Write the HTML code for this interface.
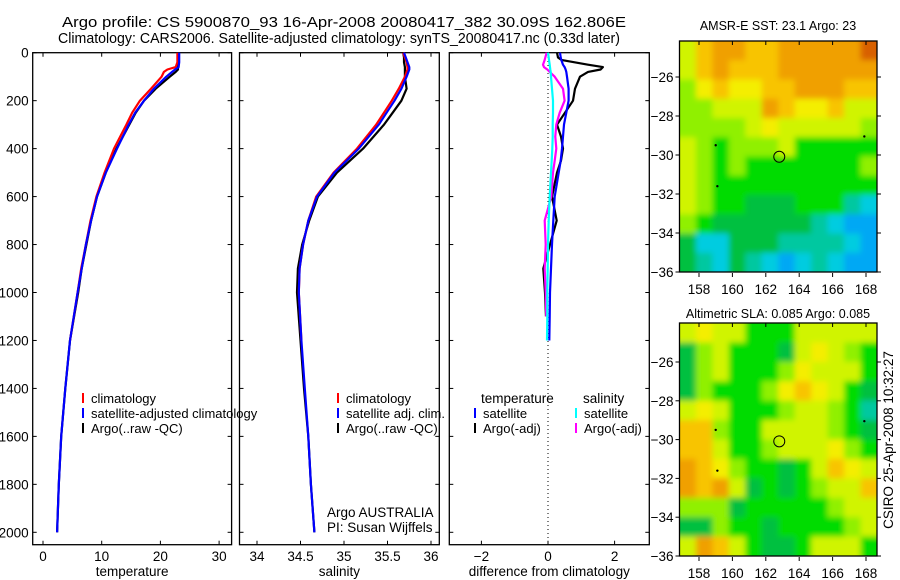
<!DOCTYPE html>
<html><head><meta charset="utf-8">
<style>
html,body{margin:0;padding:0;background:#fff;}
svg{display:block;font-family:"Liberation Sans",sans-serif;}
text{fill:#000;}
</style></head>
<body>
<svg id="chart" width="900" height="580" viewBox="0 0 900 580" xmlns="http://www.w3.org/2000/svg">
<defs>
<filter id="blur" x="-5%" y="-5%" width="110%" height="110%"><feGaussianBlur stdDeviation="3"/></filter>
<clipPath id="clipTop"><rect x="679.5" y="41" width="197.5" height="231"/></clipPath>
<clipPath id="clipBot"><rect x="679.5" y="323" width="197.5" height="233"/></clipPath>
</defs>
</svg>
<script>
// ---- data ----
const pres = [0,20,40,60,70,80,100,150,200,250,300,400,500,600,700,800,900,1000,1200,1400,1600,1800,2000];
const tempArgo = [23.0,23.0,23.0,23.0,23.0,22.6,21.6,19.2,17.2,15.8,14.7,12.5,10.7,9.2,8.2,7.4,6.6,6.0,4.6,3.8,3.1,2.7,2.4];
const tempClim = [22.9,22.9,22.9,22.6,21.2,20.6,20.2,18.4,16.5,15.2,14.2,12.1,10.5,9.1,8.1,7.3,6.5,5.9,4.6];
const tempSat  = [23.2,23.2,23.2,23.1,22.5,22.0,21.0,18.9,17.2,15.7,14.6,12.6,10.7,9.2,8.2,7.3,6.6,5.9,4.6,3.8,3.1,2.7,2.4];
const salArgo = [35.68,35.69,35.69,35.70,35.70,35.70,35.70,35.72,35.66,35.56,35.46,35.22,34.92,34.70,34.60,34.52,34.47,34.46,34.50,34.54,34.59,34.62,34.66];
const salClim  = [35.68,35.70,35.72,35.73,35.73,35.72,35.70,35.63,35.55,35.46,35.37,35.15,34.88,34.68,34.59,34.53,34.49,34.48,34.51];
const salSat   = [35.69,35.71,35.73,35.75,35.75,35.74,35.72,35.66,35.58,35.49,35.40,35.17,34.89,34.69,34.59,34.53,34.49,34.48,34.51,34.55,34.59,34.62,34.66];
const dPres = [0,20,30,50,60,70,80,100,150,200,250,300,350,400,450,500,600,700,800,900,1000,1100,1200];
const dTempSat  = [0.36,0.38,0.40,0.45,0.50,0.53,0.55,0.57,0.62,0.62,0.55,0.48,0.45,0.42,0.38,0.32,0.2,0.16,0.12,0.09,0.06,0.05,0.04];
const dTempArgo = [0.27,0.30,0.40,1.20,1.65,1.58,1.20,0.96,0.81,0.75,0.51,0.27,0.39,0.45,0.39,0.27,0.12,0.26,0.06,-0.14,-0.09,-0.06];
const dSalSat   = [0.0,0.02,0.03,0.05,0.06,0.07,0.08,0.09,0.12,0.15,0.15,0.14,0.14,0.13,0.11,0.09,0.05,0.02,0.0,-0.01,-0.02,-0.02,-0.03];
const dSalArgo  = [-0.04,-0.08,-0.1,-0.15,-0.12,-0.02,0.05,0.2,0.45,0.5,0.35,0.25,0.22,0.25,0.2,0.15,0.1,-0.1,-0.07,-0.1,-0.07,-0.05];
const presTicks = [0,200,400,600,800,1000,1200,1400,1600,1800,2000];
const tempTicks = [0,10,20,30];
const salTicks = [34,34.5,35,35.5,36];
const diffTicks = [-2,0,2];
const latTicksTop = [-26,-28,-30,-32,-34,-36];
const lonTicks = [158,160,162,164,166,168];
const argoLon = 162.806, argoLat = -30.09;
// map color grids (12x12)
const sstGrid = [
"yoOOooOOOOOD","yoOoooOOOOOO","lYoYYooOOOoo","llyyyOoYYoyy","llllyYyyyyyl",
"ylGlllyGGGGG","ylGlGGGGGGGl","ylGGGGGGGGGG","ylGGgggGGGcC","lGggggggcCBB","gCCgggccccCB","gcCgcCBCcCBB"];
const slaGrid = [
"yYyyGGGyyyyy","glyGGGgyYylG","glyGGGlYyyyG","glGGGlYoYyGg","yYyGGGlyylGc","oolGGyyyylGg",
"ooyGGlyyyYlG","OoYlGGgGyoYy","OoOygGgGlyyo","lllgGGGGGlyy","gglGGgGGGGly","yOoyGggGyyyG"];
const palette = {D:"#d86000",O:"#f0a000",o:"#f8c400",Y:"#f4ee00",y:"#d0f400",l:"#90f000",G:"#00dc00",g:"#00c040",c:"#00c8a0",C:"#00cce0",B:"#00a8f4"};

const NS="http://www.w3.org/2000/svg";
const svg=document.getElementById('chart');
function mk(tag,attrs,parent){const e=document.createElementNS(NS,tag);for(const k in attrs)e.setAttribute(k,attrs[k]);(parent||svg).appendChild(e);return e;}
function txt(s,x,y,opts,parent){const t=mk('text',Object.assign({x:x,y:y,'font-size':13.5},opts||{}),parent);t.textContent=s;return t;}

const yP = p => 52.7 + p*0.2398;
const xT = t => 43 + t*5.87;
const xS = s => 257 + (s-34)*87;
const xD = d => 548 + d*33.3;
const mapX = lon => 699 + (lon-158)*16.7;
const yTop = lat => 77 + (-26-lat)*19.5;
const yBot = lat => 362 + (-26-lat)*19.4;

let t1=txt("Argo profile: CS 5900870_93 16-Apr-2008 20080417_382 30.09S 162.806E",62,27,{'font-size':14.5,'textLength':564,'lengthAdjust':'spacingAndGlyphs'});

let t2=txt("Climatology: CARS2006. Satellite-adjusted climatology: synTS_20080417.nc (0.33d later)",58,43,{'font-size':14.5,'textLength':562,'lengthAdjust':'spacingAndGlyphs'});


function panel(name,x0,x1,ticks,xf,label,fmt){
  const g=mk('g',{});
  
  
  mk('rect',{x:x0,y:52.7,width:x1-x0,height:492,fill:'none',stroke:'#000','stroke-width':1.3},g);
  presTicks.forEach(p=>{const y=yP(p);
    mk('line',{x1:x0,x2:x0+4,y1:y,y2:y,stroke:'#000'},g);
    mk('line',{x1:x1-4,x2:x1,y1:y,y2:y,stroke:'#000'},g);
    if(name==='temperature-panel'){const l=txt(String(p),x0-4,y+5,{'text-anchor':'end'},g);}
  });
  ticks.forEach(v=>{const x=xf(v);
    mk('line',{x1:x,x2:x,y1:52.7,y2:56.7,stroke:'#000'},g);
    mk('line',{x1:x,x2:x,y1:540.7,y2:544.7,stroke:'#000'},g);
    const l=txt(fmt(v),x,561,{'text-anchor':'middle'},g);
    
  });
  const al=txt(label,(x0+x1)/2,576,{'text-anchor':'middle'},g);
  
  return g;
}
function line(vals,ps,xf,color,name,w,parent){
  let d='';vals.forEach((v,i)=>{d+=(i?'L':'M')+xf(v).toFixed(1)+' '+yP(ps[i]).toFixed(1);});
  const p=mk('path',{d:d,fill:'none',stroke:color,'stroke-width':w||2.2,'stroke-linejoin':'round'},parent);
  
  return p;
}
function legend(items,x,y,parent){
  items.forEach((it,i)=>{const yy=y+i*15;
    mk('line',{x1:x,x2:x,y1:yy-10,y2:yy,stroke:it[1],'stroke-width':2},parent);
    const l=txt(it[0],x+8,yy,{'font-size':13},parent);
    
  });
}
function neg(v){return String(v).replace('-','\u2212');}

const g1=panel('temperature-panel',32.7,231.6,tempTicks,xT,'temperature',v=>String(v));
line(tempArgo,pres,xT,'#000','argo-temperature-line',2.2,g1);
line(tempClim,pres,xT,'#f00','climatology-temperature-line',2.2,g1);
line(tempSat,pres,xT,'#00f','satellite-temperature-line',2.2,g1);
legend([['climatology','#f00'],['satellite-adjusted climatology','#00f'],['Argo(..raw -QC)','#000']],83,403,g1);

const g2=panel('salinity-panel',239.5,439.3,salTicks,xS,'salinity',v=>String(v));
line(salArgo,pres,xS,'#000','argo-salinity-line',2.2,g2);
line(salClim,pres,xS,'#f00','climatology-salinity-line',2.2,g2);
line(salSat,pres,xS,'#00f','satellite-salinity-line',2.2,g2);
legend([['climatology','#f00'],['satellite adj. clim.','#00f'],['Argo(..raw -QC)','#000']],338,403,g2);
let a1=txt('Argo AUSTRALIA',327,517,{},g2);
let a2=txt('PI: Susan Wijffels',327,532,{},g2);

const g3=panel('diff-panel',449.3,649.3,diffTicks,xD,'difference from climatology',v=>neg(v));
mk('line',{x1:xD(0),x2:xD(0),y1:53,y2:544,stroke:'#000','stroke-dasharray':'1 3'},g3);
line(dTempArgo,dPres,xD,'#000','argo-temperature-diff-line',2.2,g3);
line(dSalArgo,dPres,xD,'#f0f','argo-salinity-diff-line',2.2,g3);
line(dTempSat,dPres,xD,'#00f','satellite-temperature-diff-line',2.2,g3);
line(dSalSat,dPres,xD,'#0ff','satellite-salinity-diff-line',2.2,g3);
let lt=txt('temperature',481,403,{},g3);
let ls=txt('salinity',583,403,{},g3);
legend([['satellite','#00f'],['Argo(-adj)','#000']],475,418,g3);
legend([['satellite','#0ff'],['Argo(-adj)','#f0f']],576,418,g3);

function map(name,title,grid,top,bottom,yf,titleY,clip){
  const g=mk('g',{});
  
  const x0=679.5,x1=877,w=(x1-x0)/12,h=(bottom-top)/12;
  const cg=mk('g',{'clip-path':'url(#'+clip+')'},g);
  const bg=mk('g',{filter:'url(#blur)'},cg);
  grid.forEach((row,r)=>{for(let c=-1;c<13;c++){
    const cc=Math.min(11,Math.max(0,c));
    mk('rect',{x:(x0+c*w).toFixed(2),y:(top+r*h-(r===0?h:0)).toFixed(2),width:(w+0.6).toFixed(2),height:(h+0.6+(r===0||r===11?h:0)).toFixed(2),fill:palette[row[cc]]},bg);
  }});
  mk('rect',{x:x0,y:top,width:x1-x0,height:bottom-top,fill:'none',stroke:'#000','stroke-width':1.3},g);
  lonTicks.forEach(v=>{const x=mapX(v);
    mk('line',{x1:x,x2:x,y1:top,y2:top+4,stroke:'#000'},g);
    mk('line',{x1:x,x2:x,y1:bottom+1,y2:bottom+5,stroke:'#000'},g);
    const l=txt(String(v),x,bottom+22,{'text-anchor':'middle'},g);});
  latTicksTop.forEach(v=>{const y=yf(v);
    mk('line',{x1:x0-4,x2:x0,y1:y,y2:y,stroke:'#000'},g);
    mk('line',{x1:x1,x2:x1+4,y1:y,y2:y,stroke:'#000'},g);
    const l=txt(neg(v),x0-6,y+5,{'text-anchor':'end'},g);});
  const c=mk('circle',{cx:mapX(argoLon),cy:yf(argoLat),r:5.5,fill:'none',stroke:'#000','stroke-width':1},g);
  
  [[159,-29.5],[159.1,-31.6],[167.9,-29.05]].forEach(p=>mk('circle',{cx:mapX(p[0]),cy:yf(p[1]),r:1.2,fill:'#000'},g));
  const tt=txt(title,778,titleY,{'text-anchor':'middle','font-size':12.5},g);
  
}
map('sst-map','AMSR-E SST: 23.1  Argo: 23',sstGrid,41,272,yTop,30,'clipTop');
map('sla-map','Altimetric SLA: 0.085  Argo: 0.085',slaGrid,323,556,yBot,318,'clipBot');
const cs=txt('CSIRO 25-Apr-2008 10:32:27',0,0,{'text-anchor':'middle','transform':'translate(893,440) rotate(-90)'});

</script>
</body></html>
